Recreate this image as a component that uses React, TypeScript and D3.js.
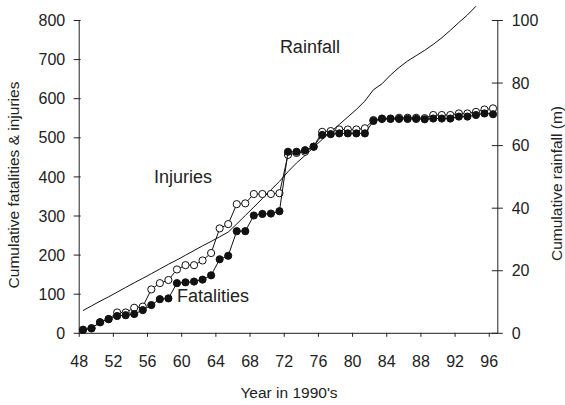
import { useEffect, useRef } from "react";
import * as d3 from "d3";

const tickYears = [48, 52, 56, 60, 64, 68, 72, 76, 80, 84, 88, 92, 96];
const leftTicks = [0, 100, 200, 300, 400, 500, 600, 700, 800];
const rightTicks = [0, 20, 40, 60, 80, 100];

const fatalities = [
  7, 11, 27, 35, 43, 45, 48, 58, 71, 86, 88, 127, 129, 131, 136, 147, 188,
  197, 260, 260, 300, 304, 305, 311, 463, 463, 467, 476, 506, 508, 510, 510,
  510, 510, 542, 547, 547, 547, 547, 547, 546, 548, 548, 548, 553, 553, 557,
  561, 559,
];

const injuries = [
  8, 12, 27, 35, 52, 52, 64, 67, 111, 127, 135, 162, 173, 173, 185, 204, 267,
  278, 329, 331, 355, 355, 355, 357, 455, 460, 463, 476, 514, 516, 520, 520,
  520, 523, 544, 548, 548, 550, 550, 550, 549, 557, 557, 557, 561, 561, 565,
  571, 574,
];

// rainfall in metres, right axis; the trace leaves the frame after 94
const rainfall = [
  7.1, 8.6, 10.1, 11.5, 13.0, 14.5, 16.0, 17.4, 18.9, 20.4, 21.9, 23.3, 24.8,
  26.3, 27.8, 29.2, 30.7, 32.2, 34.8, 37.5, 40.2, 42.9, 45.7, 48.4, 51.5, 54.3,
  56.7, 59.3, 61.8, 64.2, 66.6, 69.0, 71.4, 74.1, 77.7, 79.6, 82.4, 84.8, 86.9,
  88.6, 90.3, 92.2, 94.3, 96.7, 99.2, 101.6, 104.4,
];

const seriesLabels = [
  { text: "Rainfall", x: 23.55, y: 716 },
  { text: "Injuries", x: 8.8, y: 383 },
  { text: "Fatalities", x: 11.5, y: 79 },
];

const width = 565;
const height = 405;
const font = "'Liberation Sans', Arial, sans-serif";
const ink = "#222";

const App = () => {
  const svgRef = useRef<SVGSVGElement | null>(null);

  useEffect(() => {
    if (!svgRef.current) return;
    const svg = d3.select(svgRef.current);
    svg.selectAll("*").remove();

    // 49 yearly slots, points sit in the middle of each slot
    const x = d3.scaleLinear().domain([0, 49]).range([78.7, 497.3]);
    const yLeft = d3.scaleLinear().domain([0, 800]).range([332.8, 20]);
    const yRight = d3.scaleLinear().domain([0, 100]).range([332.8, 20]);
    const px = (i: number) => x(i + 0.5);

    // x axis
    const xAxis = d3
      .axisBottom(x)
      .tickValues(tickYears.map((yr) => yr - 48))
      .tickFormat((d) => String((d as number) + 48))
      .tickSize(4)
      .tickSizeOuter(0);
    const gx = svg
      .append("g")
      .attr("transform", `translate(0,${yLeft(0)})`)
      .call(xAxis);
    gx.select(".domain").attr("stroke", ink);
    gx.selectAll(".tick line").attr("stroke", ink);
    gx.selectAll(".tick text")
      .attr("y", 0)
      .attr("dy", null)
      .attr("transform", "translate(0,34)")
      .attr("fill", ink)
      .attr("font-size", "16px");

    // left axis
    const gl = svg
      .append("g")
      .attr("transform", `translate(${x(0)},0)`)
      .call(
        d3.axisLeft(yLeft).tickValues(leftTicks).tickSize(5).tickSizeOuter(0),
      );
    gl.select(".domain").attr("stroke", ink);
    gl.selectAll(".tick line").attr("stroke", ink).attr("x2", -5).attr("x1", 2);
    gl.selectAll(".tick text")
      .attr("x", -13.5)
      .attr("dy", "0.35em")
      .attr("fill", ink)
      .attr("font-size", "16px");

    // right axis
    const gr = svg
      .append("g")
      .attr("transform", `translate(${x(49)},0)`)
      .call(
        d3.axisRight(yRight).tickValues(rightTicks).tickSize(5.5).tickSizeOuter(0),
      );
    gr.select(".domain").attr("stroke", ink);
    gr.selectAll(".tick line").attr("stroke", ink).attr("x1", -5.5);
    gr.selectAll(".tick text")
      .attr("x", 14.4)
      .attr("dy", "0.35em")
      .attr("fill", ink)
      .attr("font-size", "16px");

    svg.selectAll("g").attr("font-family", font);

    // rainfall trace
    const rainLine = d3
      .line<number>()
      .x((_d, i) => px(i))
      .y((d) => yRight(d));
    svg
      .append("path")
      .datum(rainfall)
      .attr("d", rainLine)
      .attr("fill", "none")
      .attr("stroke", "#111")
      .attr("stroke-width", 1);

    const countLine = d3
      .line<number>()
      .x((_d, i) => px(i))
      .y((d) => yLeft(d));

    const drawSeries = (values: number[], fill: string) => {
      svg
        .append("path")
        .datum(values)
        .attr("d", countLine)
        .attr("fill", "none")
        .attr("stroke", "#111")
        .attr("stroke-width", 1);
      svg
        .append("g")
        .selectAll("circle")
        .data(values)
        .enter()
        .append("circle")
        .attr("cx", (_d, i) => px(i))
        .attr("cy", (d) => yLeft(d))
        .attr("r", 3.6)
        .attr("fill", fill)
        .attr("stroke", "#111")
        .attr("stroke-width", 1);
    };

    drawSeries(injuries, "#fff");
    drawSeries(fatalities, "#111");

    // series labels
    svg
      .append("g")
      .selectAll("text")
      .data(seriesLabels)
      .enter()
      .append("text")
      .attr("x", (d) => x(d.x))
      .attr("y", (d) => yLeft(d.y))
      .attr("fill", ink)
      .attr("font-size", "18px")
      .attr("font-family", font)
      .text((d) => d.text);

    // axis titles
    svg
      .append("text")
      .attr("x", 289)
      .attr("y", 398)
      .attr("text-anchor", "middle")
      .attr("fill", ink)
      .attr("font-size", "15.5px")
      .attr("font-family", font)
      .text("Year in 1990's");

    svg
      .append("text")
      .attr("transform", "translate(19,185) rotate(-90)")
      .attr("text-anchor", "middle")
      .attr("fill", ink)
      .attr("font-size", "15.5px")
      .attr("font-family", font)
      .text("Cumulative fatalities & injuries");

    svg
      .append("text")
      .attr("transform", "translate(562,183.5) rotate(-90)")
      .attr("text-anchor", "middle")
      .attr("fill", ink)
      .attr("font-size", "15.5px")
      .attr("font-family", font)
      .text("Cumulative rainfall (m)");
  }, []);

  return (
    <svg
      ref={svgRef}
      width={width}
      height={height}
      style={{ position: "absolute", left: 0, top: 0, background: "#fff" }}
    />
  );
};

export default App;
